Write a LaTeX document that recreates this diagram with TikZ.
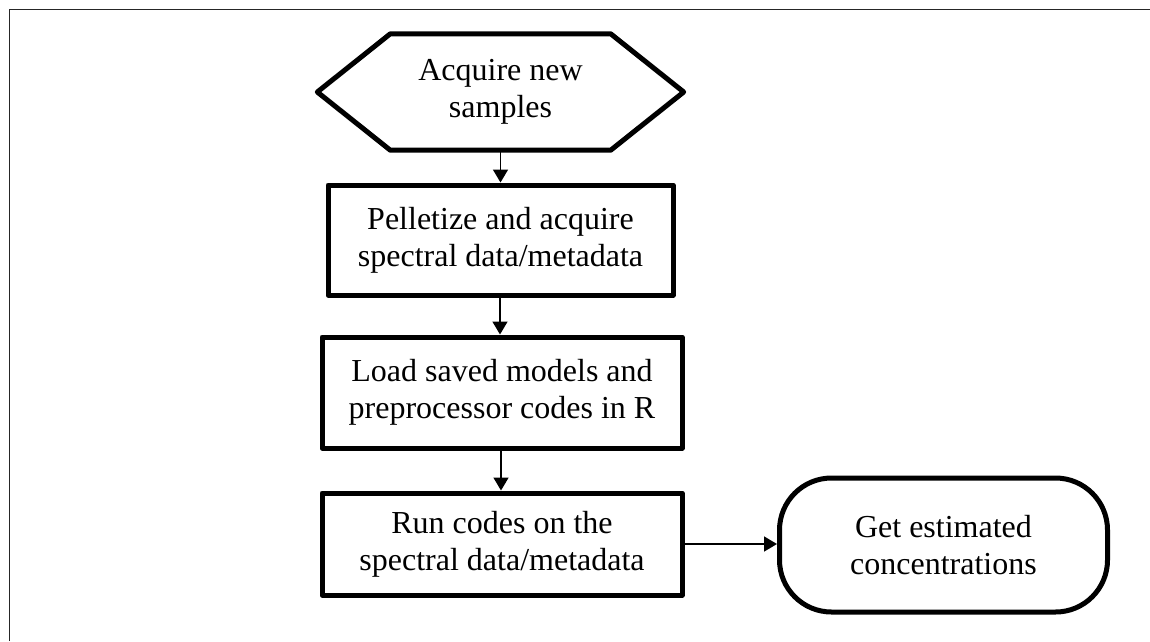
\documentclass[tikz,border=0pt]{standalone}
\usepackage{fontspec}
\setmainfont{Liberation Serif}
\usetikzlibrary{arrows.meta,calc}
\tikzset{
  base/.style={align=center, font=\fontsize{32}{37}\selectfont, inner sep=0pt, text=black},
  procbox/.style={base, draw=black, line width=5pt, line join=round},
  hexbox/.style={base},
  termbox/.style={base, draw=black, line width=5pt, rounded corners=52pt},
  conn/.style={draw=black, line width=1.6pt, -{Triangle[length=13pt,width=15pt]}},
  frame/.style={draw=black!85, line width=1.8pt}
}
\begin{document}
\begin{tikzpicture}[x=1pt,y=-1pt]
\useasboundingbox (0,0) rectangle (1150,641);
\draw[frame] (9.5,641) -- (9.5,9.5) -- (1150,9.5);
\node[hexbox, minimum width=220pt, minimum height=116pt] (n0) at (500.5,92) {Acquire new\\samples};
\draw[line width=5pt, line join=round] (n0.north west) -- (n0.north east) -- ($(n0.east)+(73,0)$) -- (n0.south east) -- (n0.south west) -- ($(n0.west)+(-73,0)$) -- cycle;
\node[procbox, minimum width=345pt, minimum height=110pt] (n1) at (500.5,240) {Pelletize and acquire\\spectral data/metadata};
\node[procbox, minimum width=360pt, minimum height=111pt] (n2) at (502,392.5) {Load saved models and\\preprocessor codes in R};
\node[procbox, minimum width=360pt, minimum height=102pt] (n3) at (502,544) {Run codes on the\\spectral data/metadata};
\node[termbox, minimum width=328pt, minimum height=134pt] (n4) at (943.5,545) {Get estimated\\concentrations};
\draw[conn] (n0.south) -- (n0.south |- n1.north);
\draw[conn] ($(n1.south)+(-0.5,0)$) -- ($(n1.south |- n2.north)+(-0.5,0)$);
\draw[conn] ($(n2.south)+(-1,0)$) -- ($(n2.south |- n3.north)+(-1,0)$);
\draw[conn] (n3.east) -- (n3.east -| n4.west);
\end{tikzpicture}
\end{document}
